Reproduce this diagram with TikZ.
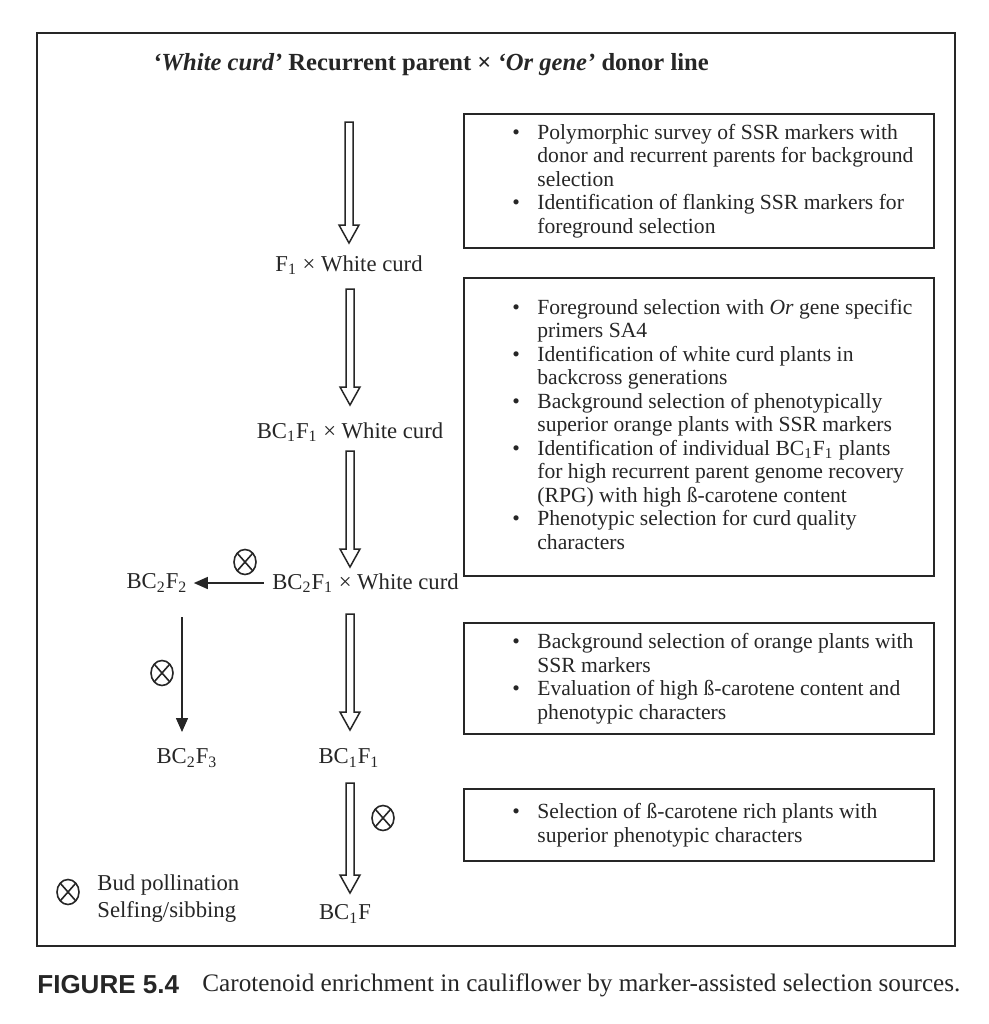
\documentclass[tikz,border=0pt]{standalone}
\usepackage{fontspec}
\setmainfont{Liberation Serif}
\newfontfamily\capsans{Liberation Sans}
\usetikzlibrary{arrows.meta,shapes.geometric,calc}
\newcommand\bulitem{\makebox[12.5pt][l]{\textbullet}}
\newcommand\bulind{\hspace*{12.5pt}}
\newcommand\hollowdown[2]{%
  \path[hollow] let \p1=(#1), \p2=(#2) in
  (\x1-2pt,\y1) -- (\x1+2pt,\y1) -- (\x1+2pt,\y2+9pt) -- (\x1+5pt,\y2+9pt)
  -- (\x1,\y2) -- (\x1-5pt,\y2+9pt) -- (\x1-2pt,\y2+9pt) -- cycle;}
\tikzset{
  lbl/.style={inner sep=0pt, text=black!85, font=\fontsize{11.35}{13}\selectfont},
  infobox/.style={draw=black!85, line width=1pt, anchor=north west, minimum width=235pt, inner sep=0pt},
  infotext/.style={anchor=west, align=left, inner sep=0pt, text=black!85, font=\fontsize{10.8}{11.75}\selectfont},
  hollow/.style={draw=black!85, line width=0.75pt, fill=white, line join=miter},
  plainarrow/.style={draw=black!85, line width=0.7pt, -{Triangle[length=7pt,width=6pt]}},
  crossmark/.style={draw=black!85, line width=0.8pt, ellipse, minimum width=11pt, minimum height=12.5pt, inner sep=0pt,
    path picture={\draw[black!85, line width=0.8pt] (path picture bounding box.north west) -- (path picture bounding box.south east)
      (path picture bounding box.north east) -- (path picture bounding box.south west);}},
}
\begin{document}
\begin{tikzpicture}[x=0.5pt,y=-0.5pt]
\useasboundingbox (0,0) rectangle (989,1024);
% outer frame
\draw[black!85, line width=1.2pt] (37,33) rectangle (955,946);

% title
\node[lbl, font=\fontsize{12.3}{14}\selectfont\bfseries] (title) at (431,65)
  {\textit{‘White curd’} Recurrent parent × \textit{‘Or gene’} donor line};

% generation labels
\node[lbl] (f1) at (349,265) {F\textsubscript{1} × White curd};
\node[lbl] (bc1) at (350,432) {BC\textsubscript{1}F\textsubscript{1} × White curd};
\node[lbl] (bc2) at (365.5,583) {BC\textsubscript{2}F\textsubscript{1} × White curd};
\node[lbl] (bc2f2) at (157,583) {BC\textsubscript{2}F\textsubscript{2}};
\node[lbl] (bc2f3) at (187,758) {BC\textsubscript{2}F\textsubscript{3}};
\node[lbl] (bc1f1) at (349,758) {BC\textsubscript{1}F\textsubscript{1}};
\node[lbl] (bc1f) at (345,914) {BC\textsubscript{1}F};

% hollow arrows
\coordinate (a1s) at (349,122); \coordinate (a1e) at (349,243);
\coordinate (a2s) at (350,289); \coordinate (a2e) at (350,405);
\coordinate (a3s) at (350,451); \coordinate (a3e) at (350,567);
\coordinate (a4s) at (350,614); \coordinate (a4e) at (350,730);
\coordinate (a5s) at (350,783); \coordinate (a5e) at (350,893);
\hollowdown{a1s}{a1e}
\hollowdown{a2s}{a2e}
\hollowdown{a3s}{a3e}
\hollowdown{a4s}{a4e}
\hollowdown{a5s}{a5e}

% plain arrows
\draw[plainarrow, shorten <=4pt, shorten >=3pt] (bc2.west) -- (bc2f2.east);
\coordinate (v1s) at (182,617); \coordinate (v1e) at (182,732);
\draw[plainarrow] (v1s) -- (v1e);

% selfing marks
\node[crossmark] (x1) at (245,562) {};
\node[crossmark] (x2) at (162,673) {};
\node[crossmark] (x3) at (383,818) {};
\node[crossmark] (x4) at (68,892) {};
\node[lbl, anchor=west, align=left, font=\fontsize{11.35}{13.5}\selectfont] (legend) at (97,898.5)
  {Bud pollination\\Selfing/sibbing};

% info boxes
\node[infobox, minimum height=67pt] (b1) at (463,113) {};
\node[infotext] (t1) at ($(b1.west)+(49,0)$)
 {\bulitem Polymorphic survey of SSR markers with\\
  \bulind donor and recurrent parents for background\\
  \bulind selection\\
  \bulitem Identification of flanking SSR markers for\\
  \bulind foreground selection};

\node[infobox, minimum height=149pt] (b2) at (463,277) {};
\node[infotext] (t2) at ($(b2.west)+(49,-3)$)
 {\bulitem Foreground selection with \textit{Or} gene specific\\
  \bulind primers SA4\\
  \bulitem Identification of white curd plants in\\
  \bulind backcross generations\\
  \bulitem Background selection of phenotypically\\
  \bulind superior orange plants with SSR markers\\
  \bulitem Identification of individual BC\textsubscript{1}F\textsubscript{1} plants\\
  \bulind for high recurrent parent genome recovery\\
  \bulind (RPG) with high ß-carotene content\\
  \bulitem Phenotypic selection for curd quality\\
  \bulind characters};

\node[infobox, minimum height=55.5pt] (b3) at (463,622) {};
\node[infotext] (t3) at ($(b3.west)+(49,0)$)
 {\bulitem Background selection of orange plants with\\
  \bulind SSR markers\\
  \bulitem Evaluation of high ß-carotene content and\\
  \bulind phenotypic characters};

\node[infobox, minimum height=36pt] (b4) at (463,788) {};
\node[infotext] (t4) at ($(b4.west)+(49,0)$)
 {\bulitem Selection of ß-carotene rich plants with\\
  \bulind superior phenotypic characters};

% caption
\node[lbl, anchor=west, font=\capsans\bfseries\fontsize{13}{15}\selectfont] (figlabel) at (37,985) {FIGURE 5.4};
\node[lbl, anchor=west, font=\fontsize{12.6}{14}\selectfont] (caption) at (202,985)
  {Carotenoid enrichment in cauliflower by marker-assisted selection sources.};
\end{tikzpicture}
\end{document}
